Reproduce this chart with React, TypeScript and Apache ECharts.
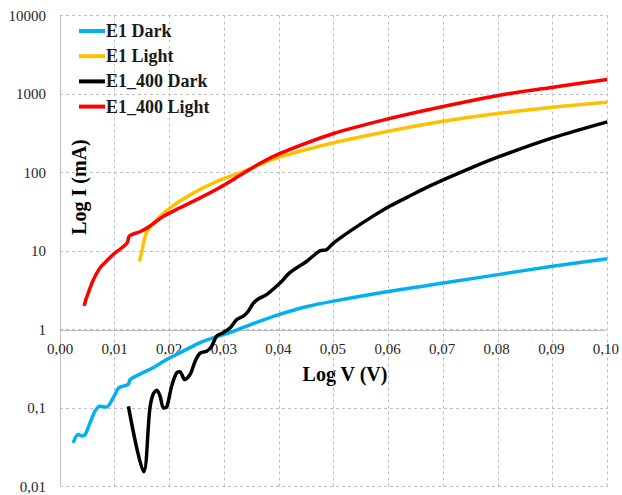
import React, { useEffect, useRef } from "react";
import * as echarts from "echarts";

const seriesNames = ["E1 Dark", "E1 Light", "E1_400 Dark", "E1_400 Light"];
const seriesColors = ["#00b0f0", "#ffc000", "#000000", "#ff0000"];

const xTickLabels = ["0,00", "0,01", "0,02", "0,03", "0,04", "0,05", "0,06", "0,07", "0,08", "0,09", "0,10"];
const yTickLabels = ["0,01", "0,1", "1", "10", "100", "1000", "10000"];

const e1Dark: [number, number][] = [
  [0.0024, 0.036], [0.0033, 0.046], [0.004, 0.044], [0.0046, 0.046], [0.0055, 0.065],
  [0.0064, 0.091], [0.0073, 0.105], [0.0085, 0.103], [0.0097, 0.134], [0.0107, 0.18],
  [0.0119, 0.193], [0.0125, 0.2], [0.0128, 0.23], [0.0146, 0.27], [0.017, 0.325],
  [0.0195, 0.415], [0.0225, 0.53], [0.0256, 0.68], [0.0286, 0.81], [0.0317, 0.95],
  [0.0353, 1.19], [0.04, 1.55], [0.045, 1.95], [0.05, 2.3], [0.06, 3.05], [0.07, 3.9],
  [0.08, 5.0], [0.09, 6.4], [0.1, 7.95],
];

const e1Light: [number, number][] = [
  [0.0145, 7.4], [0.0149, 9.5], [0.0158, 17.1], [0.0177, 25.2], [0.0201, 35.5],
  [0.0244, 55], [0.0292, 80], [0.0329, 99], [0.0365, 126], [0.0402, 158],
  [0.05, 239], [0.06, 336], [0.07, 450], [0.08, 565], [0.09, 680], [0.1, 787],
];

const e1400Dark: [number, number][] = [
  [0.0125, 0.105], [0.0153, 0.0154], [0.0164, 0.096], [0.017, 0.149], [0.0177, 0.168],
  [0.0183, 0.141], [0.0189, 0.1], [0.0195, 0.103], [0.0204, 0.19], [0.0213, 0.28],
  [0.0219, 0.29], [0.0228, 0.23], [0.0238, 0.27], [0.0247, 0.395], [0.0256, 0.5],
  [0.0268, 0.53], [0.0277, 0.61], [0.0286, 0.82], [0.0298, 0.91], [0.0311, 1.05],
  [0.0323, 1.34], [0.0335, 1.48], [0.0344, 1.71], [0.0353, 2.15], [0.0362, 2.45],
  [0.0378, 2.8], [0.0402, 3.9], [0.042, 5.3], [0.0451, 7.4], [0.0475, 10.1],
  [0.0487, 10.4], [0.0499, 12.5], [0.053, 17.9], [0.0572, 27.8], [0.0603, 37.4],
  [0.0633, 47.9], [0.0676, 67.6], [0.0749, 113], [0.0801, 158], [0.0901, 278], [0.1, 442],
];

const e1400Light: [number, number][] = [
  [0.0044, 2.0], [0.0049, 2.6], [0.0061, 4.3], [0.0073, 6.1], [0.0082, 7.1],
  [0.0097, 9.0], [0.0113, 11.0], [0.0123, 12.8], [0.0126, 15.3], [0.0131, 16.2],
  [0.0146, 17.6], [0.0164, 20.7], [0.0189, 27.7], [0.0219, 35.5], [0.0256, 47.5],
  [0.0292, 64.5], [0.0329, 92], [0.0365, 130], [0.0402, 175], [0.05, 314],
  [0.06, 483], [0.0694, 679], [0.0801, 957], [0.0901, 1222], [0.1, 1531],
];

const seriesData = [e1Dark, e1Light, e1400Dark, e1400Light];

const FONT = "'Liberation Serif', 'Times New Roman', serif";
const GRID_COLOR = "#bfbfbf";

export default function App() {
  const ref = useRef<HTMLDivElement>(null);
  useEffect(() => {
    if (!ref.current) return;
    const chart = echarts.init(ref.current, undefined, { renderer: "svg" });
    const left = 60;
    const right = 14.7;
    const top = 15.5;
    const bottom = 8.5;
    chart.setOption({
      animation: false,
      backgroundColor: "#ffffff",
      grid: [
        { left, right, top, bottom },
        { left, right, top, height: 314.5 },
      ],
      legend: {
        show: true,
        orient: "vertical",
        left: 74,
        top: 17,
        itemWidth: 26,
        itemHeight: 4,
        itemGap: 7.2,
        icon: "rect",
        data: seriesNames,
        textStyle: {
          fontFamily: FONT,
          fontWeight: "bold",
          fontSize: 18,
          color: "#1a1a1a",
          padding: [0, 0, 0, -4],
        },
      },
      xAxis: [
        {
          type: "value",
          gridIndex: 0,
          min: 0,
          max: 0.1,
          interval: 0.01,
          axisLine: { show: false },
          axisTick: { show: false },
          axisLabel: { show: false },
          splitLine: { show: true, lineStyle: { color: GRID_COLOR, type: [3, 3], width: 1 } },
        },
        {
          type: "value",
          gridIndex: 1,
          min: 0,
          max: 0.1,
          interval: 0.01,
          position: "bottom",
          axisLine: { show: true, onZero: false, lineStyle: { color: GRID_COLOR, width: 1 } },
          axisTick: { show: false },
          splitLine: { show: false },
          axisLabel: {
            show: true,
            margin: 11,
            fontFamily: FONT,
            fontSize: 15,
            color: "#262626",
            showMinLabel: true,
            showMaxLabel: true,
            formatter: (v: number) => xTickLabels[Math.round(v * 100)] ?? "",
          },
        },
      ],
      yAxis: [
        {
          type: "log",
          gridIndex: 0,
          logBase: 10,
          min: 0.01,
          max: 10000,
          axisLine: { show: true, lineStyle: { color: GRID_COLOR, width: 1 } },
          axisTick: { show: false },
          splitLine: { show: true, lineStyle: { color: GRID_COLOR, type: [3, 3], width: 1 } },
          axisLabel: {
            margin: 14,
            fontFamily: FONT,
            fontSize: 15,
            color: "#262626",
            formatter: (v: number) => yTickLabels[Math.round(Math.log10(v)) + 2] ?? "",
          },
        },
        {
          type: "value",
          gridIndex: 1,
          min: 0,
          max: 1,
          show: false,
          axisLine: { show: false },
          splitLine: { show: false },
          axisLabel: { show: false },
        },
      ],
      graphic: [
        {
          type: "text",
          x: 79,
          y: 187,
          rotation: Math.PI / 2,
          style: {
            text: "Log I (mA)",
            fontFamily: FONT,
            fontWeight: "bold",
            fontSize: 20,
            fill: "#000000",
            align: "center",
            verticalAlign: "middle",
          },
        },
        {
          type: "text",
          x: 345,
          y: 374,
          style: {
            text: "Log V (V)",
            fontFamily: FONT,
            fontWeight: "bold",
            fontSize: 20,
            fill: "#000000",
            align: "center",
            verticalAlign: "middle",
          },
        },
      ],
      series: seriesNames.map((name, i) => ({
        name,
        type: "line",
        xAxisIndex: 0,
        yAxisIndex: 0,
        data: seriesData[i],
        showSymbol: false,
        smooth: 0.3,
        lineStyle: { color: seriesColors[i], width: 3.5 },
        itemStyle: { color: seriesColors[i] },
        z: 2 + i,
      })),
    });
    return () => chart.dispose();
  }, []);
  return (
    <div
      ref={ref}
      style={{ position: "fixed", left: 0, top: 0, width: 622, height: 495 }}
    />
  );
}
